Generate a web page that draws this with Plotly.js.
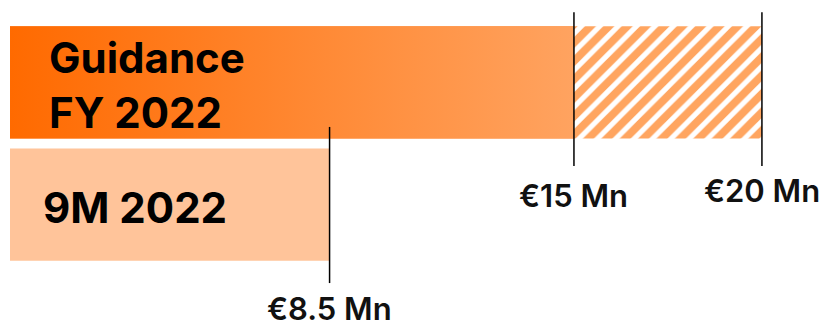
<!DOCTYPE html>
<html>
<head>
<meta charset="utf-8">
<script src="https://cdn.plot.ly/plotly-3.0.1.min.js"></script>
<style>html,body{margin:0;padding:0;background:#fff;}#chart{width:839px;height:328px;}</style>
</head>
<body>
<div id="chart"></div>
<script>
// ---- data ----
const categories = ['Guidance<br>FY 2022', '9M 2022'];
const categoryPos = [1, 0];
const guidanceLow = 15;     // € Mn
const guidanceHigh = 20;    // € Mn
const nineMonths = 8.5;     // € Mn
const tickValues = [8.5, 15, 20];
const tickLabels = ['€8.5 Mn', '€15 Mn', '€20 Mn'];

// ---- styles ----
const BAR_W = 0.92;
const FONT = 'Inter, "Open Sans", sans-serif';

const yTop = categoryPos[0];
const gradRect = {
  type: 'scatter', mode: 'none', fill: 'toself', hoverinfo: 'skip', showlegend: false,
  x: [0, guidanceLow, guidanceLow, 0, 0],
  y: [yTop - BAR_W/2, yTop - BAR_W/2, yTop + BAR_W/2, yTop + BAR_W/2, yTop - BAR_W/2],
  fillcolor: '#FF8A3A',
  fillgradient: {type: 'horizontal', colorscale: [[0, '#FF6A00'], [1, '#FFA360']]}
};

const traces = [
  { // guidance low (solid, underneath gradient)
    type: 'bar', orientation: 'h', y: [yTop], x: [guidanceLow], base: [0], width: BAR_W,
    marker: {color: '#FF8A3A', line: {width: 0}}, hoverinfo: 'skip', showlegend: false
  },
  { // guidance range (hatched)
    type: 'bar', orientation: 'h', y: [yTop], x: [guidanceHigh - guidanceLow], base: [guidanceLow], width: BAR_W,
    marker: {color: '#FFA560', line: {width: 0},
      pattern: {shape: '/', fgcolor: '#FFA560', bgcolor: '#ffffff', size: 13, solidity: 0.6}},
    hoverinfo: 'skip', showlegend: false
  },
  { // 9M
    type: 'bar', orientation: 'h', y: [categoryPos[1]], x: [nineMonths], base: [0], width: BAR_W,
    marker: {color: '#FFC49A', line: {width: 0}}, hoverinfo: 'skip', showlegend: false
  },
  gradRect
];

const shapes = [
  {type: 'line', xref: 'x', yref: 'paper', x0: nineMonths, x1: nineMonths, y0: 0.137, y1: 0.613, line: {color: '#000', width: 1.5}},
  {type: 'line', xref: 'x', yref: 'paper', x0: guidanceLow, x1: guidanceLow, y0: 0.494, y1: 0.963, line: {color: '#000', width: 1.5}},
  {type: 'line', xref: 'x', yref: 'paper', x0: guidanceHigh, x1: guidanceHigh, y0: 0.494, y1: 0.963, line: {color: '#000', width: 1.5}}
];

const labelY = [0.0, 0.405, 0.42];
const labelAnchor = ['bottom', 'middle', 'middle'];
const annotations = tickValues.map((v, i) => ({
  x: v, xref: 'x', y: labelY[i], yref: 'paper', text: tickLabels[i], showarrow: false,
  xanchor: 'center', yanchor: labelAnchor[i], borderpad: 0,
  font: {family: FONT, size: 31, color: '#111', weight: 600}
}));
annotations.push({
  x: 0.0446, xref: 'paper', y: categoryPos[0], yref: 'y', text: categories[0], showarrow: false,
  xanchor: 'left', yanchor: 'middle', align: 'left', yshift: -3,
  font: {family: FONT, size: 42, color: '#000', weight: 700}
});
annotations.push({
  x: 0.0374, xref: 'paper', y: categoryPos[1], yref: 'y', text: categories[1], showarrow: false,
  xanchor: 'left', yanchor: 'middle', align: 'left', yshift: -3,
  font: {family: FONT, size: 42, color: '#000', weight: 700}
});

const layout = {
  width: 839, height: 328,
  margin: {l: 10, r: 0, t: 0, b: 0},
  paper_bgcolor: '#fff', plot_bgcolor: '#fff',
  barmode: 'overlay',
  xaxis: {range: [0, 22.05], visible: false, fixedrange: true},
  yaxis: {range: [-1.012, 1.676], visible: false, fixedrange: true},
  shapes: shapes,
  annotations: annotations,
  showlegend: false
};

Plotly.newPlot('chart', traces, layout, {displayModeBar: false, staticPlot: true});
</script>
</body>
</html>
